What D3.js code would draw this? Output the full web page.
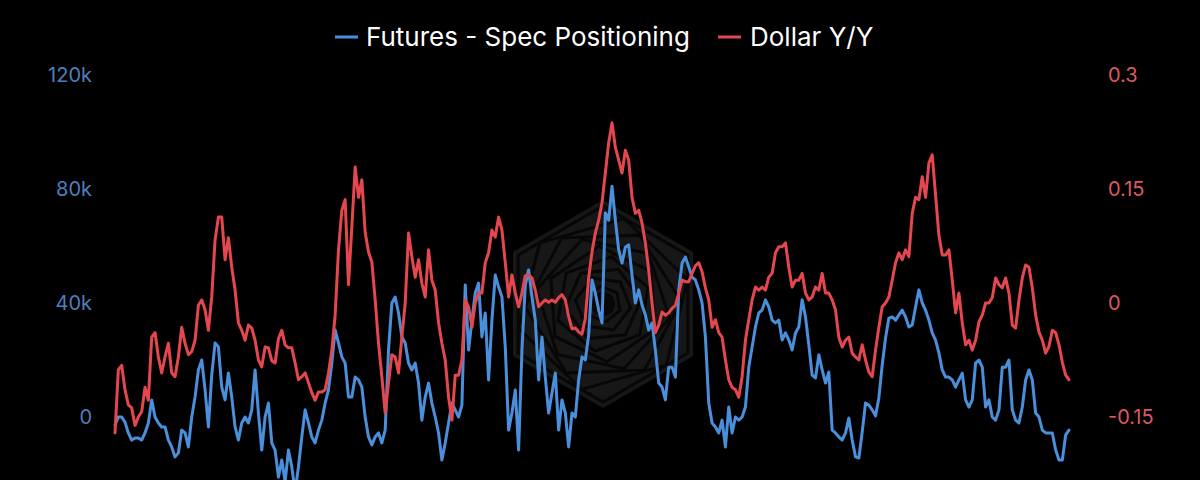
<!DOCTYPE html>
<html>
<head>
<meta charset="utf-8">
<script src="https://cdn.jsdelivr.net/npm/d3@7"></script>
<style>
  html, body { margin: 0; padding: 0; background: #000; }
  svg { display: block; }
</style>
</head>
<body>
<svg id="chart" width="1200" height="480"></svg>
<script>
// ---------------- DATA ----------------
const seriesNames = ["Futures - Spec Positioning", "Dollar Y/Y"];
const leftTicks = [0, 40, 80, 120];               // thousands of contracts
const leftTickLabels = ["0", "40k", "80k", "120k"];
const rightTicks = [-0.15, 0, 0.15, 0.3];
const rightTickLabels = ["-0.15", "0", "0.15", "0.3"];

// Futures - Spec Positioning (thousands of contracts), weekly
const specPositioningK = [
  -2.8,0,0,-1.8,-5.6,-8.1,-7.4,-7.4,-8.1,-5.6,
  -2.1,6.0,0,-2.1,-3.5,-3.5,-8.1,-10.5,-14.0,-12.6,
  -4.6,-5.6,-10.5,0,7.0,16.5,20.0,9.5,-3.5,14.7,
  26.0,24.6,10.5,6.0,15.4,7.0,-3.5,-8.1,-2.1,0,
  -2.1,2.5,16.5,1.4,-11.6,0,4.9,-9.1,-11.6,-21.1,
  -15.1,-22.8,-11.6,-17.5,-26.3,-17.5,-7.0,2.5,-2.1,-7.0,
  -9.1,-4.6,-1.1,4.9,9.5,18.9,30.5,26.0,21.1,18.9,
  7.0,7.0,14.0,13.0,10.5,0,-7.0,-9.8,-7.0,-5.6,
  -9.1,-4.6,23.5,40.0,42.1,36.5,28.1,26.0,18.9,16.5,
  18.9,11.9,-1.1,7.0,11.9,4.9,0,-5.6,-15.1,-9.1,
  -2.1,4.9,2.5,0,4.2,46.3,23.5,34.0,43.5,47.0,
  28.1,36.5,13.0,34.0,49.8,45.6,42.1,24.6,-4.6,1.4,
  9.5,-11.6,23.5,46.3,51.6,42.1,34.0,13.0,28.1,14.0,
  1.4,8.4,15.4,-4.6,6.0,1.4,-10.5,1.4,0,13.0,
  21.1,20.0,28.8,48.1,43.5,37.5,33.0,71.6,69.1,81.0,
  69.1,58.6,54.0,59.6,60.4,49.8,40.0,44.6,39.3,35.8,
  30.5,33.0,23.5,11.9,10.5,6.0,17.5,17.5,14.0,44.6,
  54.0,56.1,52.6,49.1,48.1,44.6,40.0,28.1,4.9,-2.1,
  -3.5,-5.6,-1.1,-10.5,3.5,-5.6,0,-1.1,0,3.5,
  17.5,24.6,31.6,36.5,37.5,41.1,38.6,34.0,33.0,34.0,
  27.0,29.5,27.0,23.5,29.5,31.6,41.1,35.1,25.3,14.7,
  13.7,21.8,16.5,11.9,15.8,-4.6,-5.6,-7.0,-8.1,-5.6,
  -0.4,-8.1,-14.0,-14.4,-5.3,4.9,4.2,2.5,0.4,6.7,
  18.2,27.7,34.7,35.1,34.0,35.8,37.5,35.1,31.6,32.3,
  38.6,44.6,40.0,37.5,34.0,29.5,27.0,22.5,16.5,14.0,
  14.0,13.0,10.5,13.0,15.4,6.0,3.5,6.0,18.9,20.0,
  17.5,3.5,6.0,0,-1.1,2.5,17.5,17.5,20.0,2.5,
  -1.1,-2.1,3.5,13.0,16.5,13.0,1.4,0,-4.6,-5.6,
  -5.6,-5.6,-11.6,-15.1,-15.1,-6.3,-4.6
];

// Dollar Y/Y (fraction), weekly
const dollarYoY = [
  -0.171,-0.088,-0.082,-0.114,-0.134,-0.138,-0.161,-0.150,-0.143,-0.111,
  -0.128,-0.045,-0.039,-0.071,-0.092,-0.071,-0.053,-0.092,-0.097,-0.071,
  -0.032,-0.053,-0.068,-0.064,-0.049,-0.003,0.004,-0.009,-0.036,0.008,
  0.083,0.113,0.113,0.057,0.086,0.047,0.017,-0.026,-0.036,-0.049,
  -0.029,-0.033,-0.049,-0.075,-0.084,-0.058,-0.059,-0.076,-0.079,-0.047,
  -0.036,-0.055,-0.059,-0.059,-0.079,-0.101,-0.097,-0.092,-0.105,-0.118,
  -0.128,-0.117,-0.117,-0.114,-0.092,-0.062,-0.016,0.070,0.122,0.136,
  0.024,0.100,0.179,0.139,0.162,0.093,0.067,0.054,0.004,-0.053,
  -0.097,-0.145,-0.105,-0.068,-0.071,-0.092,-0.045,0.000,0.092,0.061,
  0.034,0.057,0.026,0.008,0.070,0.030,0.017,-0.026,-0.053,-0.075,
  -0.124,-0.154,-0.095,-0.095,-0.075,0.004,-0.005,-0.032,0.000,0.013,
  0.013,0.053,0.066,0.096,0.087,0.113,0.096,0.053,0.008,0.037,
  0.013,-0.005,0.013,0.036,0.037,0.033,0.017,-0.005,0.000,0.004,
  0.001,0.004,0.001,0.007,0.011,0.004,-0.018,-0.034,-0.033,-0.038,
  -0.041,-0.020,0.033,0.067,0.092,0.109,0.132,0.171,0.211,0.237,
  0.205,0.188,0.171,0.201,0.188,0.139,0.118,0.122,0.105,0.079,
  0.043,0.000,-0.039,-0.029,-0.012,-0.016,-0.013,-0.007,-0.003,0.013,
  0.030,0.028,0.028,0.039,0.049,0.053,0.041,0.020,0.004,-0.032,
  -0.022,-0.039,-0.045,-0.075,-0.101,-0.111,-0.114,-0.124,-0.097,-0.049,
  -0.022,0.004,0.021,0.017,0.021,0.017,0.034,0.039,0.066,0.074,
  0.074,0.079,0.047,0.021,0.030,0.030,0.039,0.013,0.004,0.008,
  0.021,0.017,0.039,0.013,0.013,0.004,-0.009,-0.045,-0.058,-0.049,
  -0.045,-0.066,-0.071,-0.075,-0.055,-0.075,-0.091,-0.097,-0.062,-0.032,
  -0.005,0.000,0.008,0.030,0.053,0.066,0.057,0.070,0.061,0.118,
  0.139,0.136,0.166,0.139,0.184,0.195,0.142,0.089,0.063,0.063,
  0.070,0.030,-0.013,0.013,-0.026,-0.055,-0.049,-0.062,-0.049,-0.025,
  -0.016,0.000,0.000,0.007,0.033,0.024,0.020,0.033,0.013,-0.029,
  -0.033,0.004,0.033,0.050,0.047,0.020,-0.016,-0.038,-0.049,-0.066,
  -0.057,-0.036,-0.039,-0.055,-0.078,-0.095,-0.101
];

// ---------------- STYLE / LAYOUT ----------------
const W = 1200, H = 480;
const BLUE = "#4a8fdb", RED = "#e5474f";
const BLUE_TXT = "#4d7fbf", RED_TXT = "#dc5a5f";
const FONT = "Inter, 'Open Sans', sans-serif";

const svg = d3.select("#chart");
svg.append("rect").attr("width", W).attr("height", H).attr("fill", "#000");

const n = dollarYoY.length;
const x = d3.scaleLinear().domain([0, n - 1]).range([115, 1069]);
const yL = d3.scaleLinear().domain([0, 120]).range([417, 75]);
const yR = d3.scaleLinear().domain([-0.15, 0.3]).range([417, 75]);

// ---------------- WATERMARK ----------------
const wm = svg.append("g").attr("transform", "translate(603,304)");
const hexPts = r => d3.range(6).map(k => {
  const a = -Math.PI / 2 + k * Math.PI / 3;
  return [r * Math.cos(a), r * Math.sin(a)];
});
wm.append("polygon").attr("points", hexPts(104).join(" ")).attr("fill", "#171717");
for (let k = 0; k < 9; k++) {
  const r = 98 - k * 10;
  wm.append("polygon")
    .attr("points", hexPts(r).join(" "))
    .attr("transform", `rotate(${k * 14})`)
    .attr("fill", "none").attr("stroke", "#070707").attr("stroke-width", 3);
}
wm.append("circle").attr("r", 12).attr("fill", "#070707");

// ---------------- AXES ----------------
const axL = svg.append("g").attr("transform", "translate(100,0)")
  .call(d3.axisLeft(yL).tickValues(leftTicks).tickFormat((d, i) => leftTickLabels[i]).tickSize(0).tickPadding(8));
axL.select(".domain").remove();
axL.selectAll("text").attr("fill", BLUE_TXT).style("font-family", FONT).style("font-size", "20px");

const axR = svg.append("g").attr("transform", "translate(1100,0)")
  .call(d3.axisRight(yR).tickValues(rightTicks).tickFormat((d, i) => rightTickLabels[i]).tickSize(0).tickPadding(8));
axR.select(".domain").remove();
axR.selectAll("text").attr("fill", RED_TXT).style("font-family", FONT).style("font-size", "20px");

// ---------------- LINES ----------------
const lineL = d3.line().x((d, i) => x(i)).y(d => yL(d));
const lineR = d3.line().x((d, i) => x(i)).y(d => yR(d));

svg.append("path").datum(specPositioningK).attr("d", lineL)
  .attr("fill", "none").attr("stroke", BLUE).attr("stroke-width", 3)
  .attr("stroke-linejoin", "round").attr("stroke-linecap", "round");
svg.append("path").datum(dollarYoY).attr("d", lineR)
  .attr("fill", "none").attr("stroke", RED).attr("stroke-width", 3)
  .attr("stroke-linejoin", "round").attr("stroke-linecap", "round");

// ---------------- LEGEND ----------------
const legend = [
  { name: seriesNames[0], color: BLUE, x0: 335, tx: 366 },
  { name: seriesNames[1], color: RED, x0: 718, tx: 750 }
];
const lg = svg.append("g");
legend.forEach(l => {
  lg.append("line").attr("x1", l.x0).attr("x2", l.x0 + 23).attr("y1", 37).attr("y2", 37)
    .attr("stroke", l.color).attr("stroke-width", 3);
  lg.append("text").attr("x", l.tx).attr("y", 46).text(l.name)
    .attr("fill", "#ffffff").style("font-family", FONT).style("font-size", "26px");
});
</script>
</body>
</html>
